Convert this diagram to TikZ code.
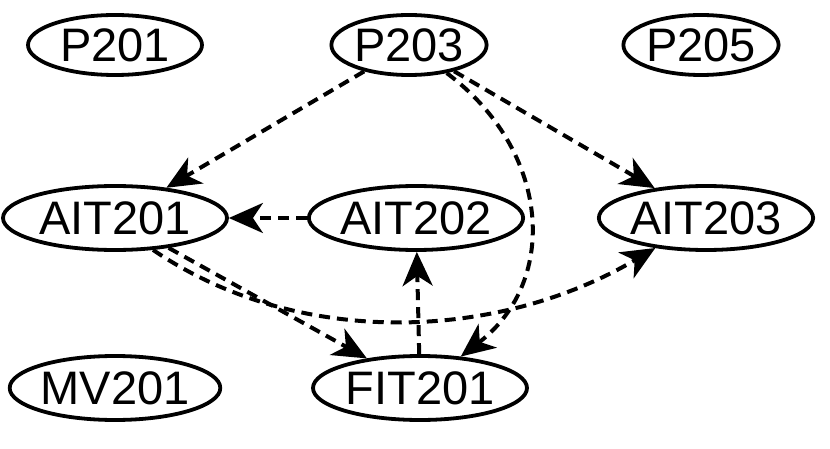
\documentclass[tikz,border=0pt]{standalone}
\usepackage{fontspec}
\setmainfont{Liberation Sans}
\usetikzlibrary{shapes.geometric,arrows.meta}
\begin{document}
\begin{tikzpicture}[x=1pt,y=-1pt,
  nd/.style={draw,ellipse,line width=3.8pt,inner sep=0pt,minimum height=60pt,font=\fontsize{47}{47}\selectfont},
  ed/.style={draw,line width=4pt,dash pattern=on 11pt off 7pt,-{Stealth[length=34pt,width=30pt,inset=10pt]}}]
\useasboundingbox (0,0) rectangle (830,449);
\node[nd,minimum width=174pt] (p201) at (115,45) {P201};
\node[nd,minimum width=152pt] (p203) at (409,45) {P203};
\node[nd,minimum width=140pt] (p205) at (701,45) {P205};
\node[nd,minimum width=224pt,minimum height=64pt] (a201) at (115,218) {AIT201};
\node[nd,minimum width=214pt,minimum height=64pt] (a202) at (416,218) {AIT202};
\node[nd,minimum width=214pt,minimum height=64pt] (a203) at (706,218) {AIT203};
\node[nd,minimum width=190pt,minimum height=64pt] (mv) at (115,388) {MV201};
\node[nd,minimum width=214pt,minimum height=64pt] (fit) at (420,388) {FIT201};
\draw[ed] (p203) -- (a201);
\draw[ed] (p203) -- (a203);
\draw[ed] (p203) .. controls (550,150) and (560,280) .. (fit);
\draw[ed] (a202) -- (a201);
\draw[ed] (a201) -- (fit);
\draw[ed] (a201.-40) .. controls (300,350) and (500,340) .. (a203);
\draw[ed] (fit) -- (a202);
\end{tikzpicture}
\end{document}
